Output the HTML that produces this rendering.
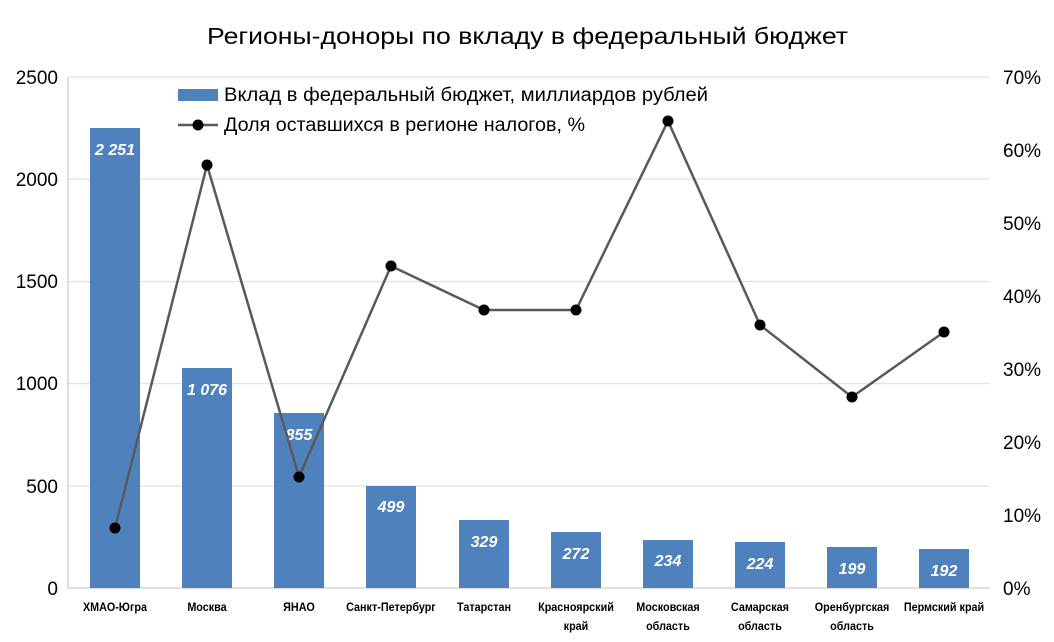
<!DOCTYPE html>
<html><head><meta charset="utf-8"><style>body{margin:0;background:#fff}</style></head><body>
<svg width="1054" height="637" xmlns="http://www.w3.org/2000/svg" font-family="Liberation Sans, sans-serif">
<rect width="1054" height="637" fill="#fff"/>
<text x="207" y="44" font-size="23" fill="#000" textLength="641" lengthAdjust="spacingAndGlyphs">Регионы-доноры по вкладу в федеральный бюджет</text>
<g stroke="#d9d9d9" stroke-width="1">
<line x1="68" y1="77" x2="990" y2="77"/><line x1="68" y1="179" x2="990" y2="179"/><line x1="68" y1="281.6" x2="990" y2="281.6"/><line x1="68" y1="383.8" x2="990" y2="383.8"/><line x1="68" y1="486" x2="990" y2="486"/>
</g>
<line x1="68" y1="588" x2="990" y2="588" stroke="#bfbfbf"/>
<line x1="68" y1="77" x2="68" y2="588" stroke="#bfbfbf"/>
<g font-size="19" fill="#000" text-anchor="end">
<text x="58" y="84">2500</text><text x="58" y="186">2000</text><text x="58" y="288">1500</text><text x="58" y="390">1000</text><text x="58" y="493">500</text><text x="58" y="595">0</text>
</g>
<g font-size="19" fill="#000" text-anchor="start">
<text x="1003" y="84">70%</text><text x="1003" y="157">60%</text><text x="1003" y="230">50%</text><text x="1003" y="303">40%</text><text x="1003" y="376">30%</text><text x="1003" y="449">20%</text><text x="1003" y="522">10%</text><text x="1003" y="595">0%</text>
</g>
<g fill="#4f81bd">
<rect x="90" y="128" width="50" height="460"/>
<rect x="182" y="368" width="50" height="220"/>
<rect x="274" y="413" width="50" height="175"/>
<rect x="366" y="486" width="50" height="102"/>
<rect x="459" y="520" width="50" height="68"/>
<rect x="551" y="532" width="50" height="56"/>
<rect x="643" y="540" width="50" height="48"/>
<rect x="735" y="542" width="50" height="46"/>
<rect x="827" y="547" width="50" height="41"/>
<rect x="919" y="549" width="50" height="39"/>
</g>
<g font-size="16" font-weight="bold" font-style="italic" fill="#fff" text-anchor="middle">
<text x="115" y="155">2 251</text><text x="207" y="395">1 076</text><text x="299" y="440">855</text><text x="391" y="512">499</text><text x="484" y="547">329</text><text x="576" y="559">272</text><text x="668" y="566">234</text><text x="760" y="569">224</text><text x="852" y="574">199</text><text x="944" y="576">192</text>
</g>
<polyline fill="none" stroke="#595959" stroke-width="2.5" points="115,528 207,165 299,477 391,266 484,310 576,310 668,121 760,325 852,397 944,332"/>
<g fill="#000">
<circle cx="115" cy="528" r="5.5"/><circle cx="207" cy="165" r="5.5"/><circle cx="299" cy="477" r="5.5"/><circle cx="391" cy="266" r="5.5"/><circle cx="484" cy="310" r="5.5"/><circle cx="576" cy="310" r="5.5"/><circle cx="668" cy="121" r="5.5"/><circle cx="760" cy="325" r="5.5"/><circle cx="852" cy="397" r="5.5"/><circle cx="944" cy="332" r="5.5"/>
</g>
<g font-size="12" font-weight="bold" fill="#000" text-anchor="middle" transform="translate(0,0)">
<g transform="scale(0.9,1)">
<text x="127.8" y="611">ХМАО-Югра</text><text x="230" y="611">Москва</text><text x="332.2" y="611">ЯНАО</text><text x="434.4" y="611">Санкт-Петербург</text><text x="537.8" y="611">Татарстан</text>
<text x="640" y="611">Красноярский</text><text x="640" y="630">край</text>
<text x="742.2" y="611">Московская</text><text x="742.2" y="630">область</text>
<text x="844.4" y="611">Самарская</text><text x="844.4" y="630">область</text>
<text x="946.7" y="611">Оренбургская</text><text x="946.7" y="630">область</text>
<text x="1048.9" y="611">Пермский край</text>
</g>
</g>
<rect x="178" y="89" width="40" height="12" fill="#4f81bd"/>
<text x="224" y="101" font-size="19" fill="#000" textLength="484" lengthAdjust="spacingAndGlyphs">Вклад в федеральный бюджет, миллиардов рублей</text>
<line x1="178" y1="125" x2="218" y2="125" stroke="#595959" stroke-width="2.5"/>
<circle cx="198" cy="125" r="5.5" fill="#000"/>
<text x="224" y="131" font-size="19" fill="#000" textLength="361" lengthAdjust="spacingAndGlyphs">Доля оставшихся в регионе налогов, %</text>
</svg>
</body></html>
